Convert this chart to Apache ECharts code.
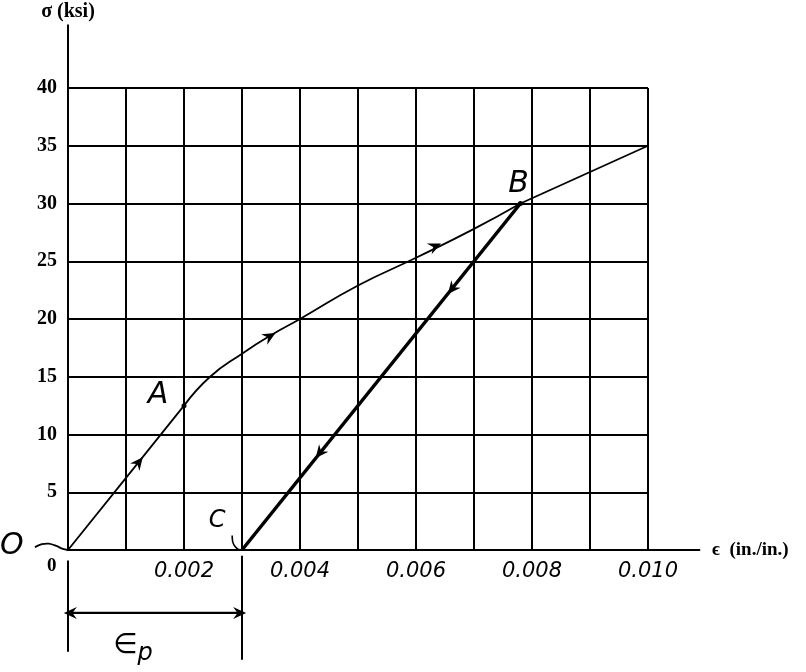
<!DOCTYPE html>
<html><head><meta charset="utf-8">
<script src="https://cdn.jsdelivr.net/npm/echarts@6/dist/echarts.min.js"></script>
<style>html,body{margin:0;padding:0;background:#fff}#c{width:806px;height:672px}</style>
</head><body><div id="c"></div>
<script>
// ---- data ----
const elasticX = [0, 0.001, 0.002];
const elasticY = [0, 6.25, 12.5];
const plasticX = [0.002, 0.00245, 0.003, 0.0035, 0.004, 0.005, 0.006, 0.007, 0.0078];
const plasticY = [12.5, 15.0, 17.0, 18.6, 20.0, 22.9, 25.3, 27.8, 30.0];
const hardenX = [0.0078, 0.010];
const hardenY = [30.0, 35.0];
const unloadX = [0.0078, 0.003];
const unloadY = [30, 0];
const pointX = [0.002, 0.0078];
const pointY = [12.5, 30];
const xTickValues = [0.002, 0.004, 0.006, 0.008, 0.010];
const xTickLabels = ['0.002', '0.004', '0.006', '0.008', '0.010'];
const yTickValues = [5, 10, 15, 20, 25, 30, 35, 40];
// direction arrows on the path: position and a point further along
const arrowX = [0.00122, 0.00348, 0.00633, 0.00662, 0.00434, 0.00004, 0.00296];
const arrowY = [7.6, 18.5, 26.3, 22.6, 8.4, -5.45, -5.45];
const arrowToX = [0.002, 0.004, 0.007, 0.003, 0.003, -0.001, 0.004];
const arrowToY = [12.5, 20.0, 27.8, 0, 0, -5.45, -5.45];
// annotation texts
const noteText = ['O', 'A', 'B', 'C'];
const noteX = [-0.00097, 0.00155, 0.00777, 0.00257];
const noteY = [0.35, 13.4, 31.7, 2.5];
const zeroX = -0.00028, zeroY = -1.4;
const epsX = 0.00112, epsY = -8.3;
// guide lines (axis extensions, dimension lines, leader hooks)
const guideXs = [
  [0.010, 0.0109],                                   // x-axis extension
  [0, 0],                                            // y-axis extension
  [0, 0],                                            // dimension left
  [0.003, 0.003],                                    // dimension right
  [0, 0.003],                                        // dimension arrow line
  [-0.00057, -0.00045, -0.00033, -0.00020, -0.00009, 0], // O leader
  [0.00283, 0.00284, 0.00288, 0.00294, 0.003]        // C leader
];
const guideYs = [
  [0, 0],
  [40, 45.5],
  [-0.9, -8.8],
  [-0.5, -9.5],
  [-5.45, -5.45],
  [0.25, 0.5, 0.55, 0.35, 0.1, 0],
  [1.25, 0.7, 0.3, 0.05, 0]
];
const guideW = [2, 2, 2, 2, 2.2, 1.8, 1.6];

const zip = (xs, ys) => xs.map((x, i) => [x, ys[i]]);
const chart = echarts.init(document.getElementById('c'));
const hand = 'DejaVu Sans';
const serif = 'Liberation Serif';
const arrowPath = 'path://M0,0L12,6L0,12L4,6Z';
const solid = { color: '#000', opacity: 1 };

const option = {
  animation: false,
  backgroundColor: '#fff',
  grid: { left: 68, right: 158, top: 88, bottom: 122 },
  xAxis: {
    type: 'value', min: 0, max: 0.010, interval: 0.001,
    name: 'ϵ  (in./in.)', nameLocation: 'end', nameGap: 14,
    nameTextStyle: { fontFamily: serif, fontWeight: 'bold', fontSize: 19, color: '#000', align: 'left', verticalAlign: 'middle', padding: [0, 0, 0, 50] },
    axisLine: { lineStyle: { color: '#000', width: 2 } },
    axisTick: { show: false },
    axisLabel: {
      margin: 11, color: '#000', fontFamily: hand, fontStyle: 'italic', fontSize: 21,
      formatter: v => { const i = xTickValues.findIndex(t => Math.abs(t - v) < 1e-9); return i >= 0 ? xTickLabels[i] : ''; }
    },
    splitLine: { show: true, lineStyle: { color: '#000', width: 2 } }
  },
  yAxis: {
    type: 'value', min: 0, max: 40, interval: 5,
    name: 'σ (ksi)', nameLocation: 'end', nameGap: 76,
    nameTextStyle: { fontFamily: serif, fontWeight: 'bold', fontSize: 20, color: '#000', align: 'center', verticalAlign: 'middle' },
    axisLine: { lineStyle: { color: '#000', width: 2 } },
    axisTick: { show: false },
    axisLabel: {
      margin: 11, color: '#000', fontFamily: serif, fontWeight: 'bold', fontSize: 20,
      formatter: v => yTickValues.some(t => Math.abs(t - v) < 1e-9) ? String(v) : ''
    },
    splitLine: { show: true, lineStyle: { color: '#000', width: 2 } }
  },
  series: [
    { type: 'line', name: 'elastic', data: zip(elasticX, elasticY), symbol: 'none',
      lineStyle: { color: '#000', width: 1.8 }, z: 4 },
    { type: 'line', name: 'plastic', data: zip(plasticX, plasticY), symbol: 'none',
      smooth: 0.5, lineStyle: { color: '#000', width: 1.8 }, z: 4 },
    { type: 'line', name: 'harden', data: zip(hardenX, hardenY), symbol: 'none',
      lineStyle: { color: '#000', width: 1.8 }, z: 4 },
    { type: 'line', name: 'unload', data: zip(unloadX, unloadY), symbol: 'none',
      lineStyle: { color: '#000', width: 3.5 }, z: 4 },
    { type: 'custom', name: 'guides', clip: false, silent: true, z: 3,
      data: guideXs.map((g, i) => [i]),
      encode: { x: -1, y: -1 },
      renderItem: (params, api) => {
        const i = params.dataIndex;
        const pts = guideXs[i].map((x, k) => api.coord([x, guideYs[i][k]]));
        return { type: 'polyline', shape: { points: pts, smooth: pts.length > 2 ? 0.3 : 0 },
          style: { stroke: '#000', lineWidth: guideW[i], fill: null } };
      } },
    { type: 'scatter', name: 'points', data: zip(pointX, pointY), symbolSize: 5,
      itemStyle: solid, clip: false, z: 5 },
    { type: 'scatter', name: 'arrows', id: 'arrows', data: zip(arrowX, arrowY), symbol: arrowPath,
      symbolSize: [13, 12], itemStyle: solid, clip: false, z: 6 },
    { type: 'scatter', name: 'notes', clip: false, symbolSize: 0, z: 7, itemStyle: solid,
      data: noteText.map((t, i) => ({ value: [noteX[i], noteY[i]], name: t,
        label: { fontSize: t === 'C' ? 24 : 30 } })),
      label: { show: true, position: 'inside', formatter: p => p.name, color: '#000',
        textBorderWidth: 0, fontFamily: hand, fontStyle: 'italic', fontWeight: 'normal', fontSize: 30 } },
    { type: 'scatter', name: 'zero', clip: false, symbolSize: 0, z: 7, itemStyle: solid,
      data: [[zeroX, zeroY]],
      label: { show: true, position: 'inside', formatter: '0', color: '#000', textBorderWidth: 0,
        fontFamily: serif, fontWeight: 'bold', fontStyle: 'normal', fontSize: 19 } },
    { type: 'scatter', name: 'eps', clip: false, symbolSize: 0, z: 7, itemStyle: solid,
      data: [{ value: [epsX, epsY], name: 'ε_p' }],
      label: { show: true, position: 'inside', formatter: '{e|∈}{p|p}', color: '#000', textBorderWidth: 0,
        rich: { e: { fontFamily: hand, fontSize: 28, color: '#000', fontStyle: 'italic' },
                p: { fontFamily: hand, fontSize: 24, color: '#000', fontStyle: 'italic', padding: [16, 0, 0, 0] } } } }
  ]
};
chart.setOption(option);

// rotate arrow heads along the path direction (in screen space)
const rot = arrowX.map((x, i) => {
  const a = chart.convertToPixel({ gridIndex: 0 }, [x, arrowY[i]]);
  const b = chart.convertToPixel({ gridIndex: 0 }, [arrowToX[i], arrowToY[i]]);
  return Math.atan2(-(b[1] - a[1]), b[0] - a[0]) * 180 / Math.PI;
});
chart.setOption({ series: [{ id: 'arrows', data: arrowX.map((x, i) => ({ value: [x, arrowY[i]], symbolRotate: rot[i] })) }] });
</script>
</body></html>
